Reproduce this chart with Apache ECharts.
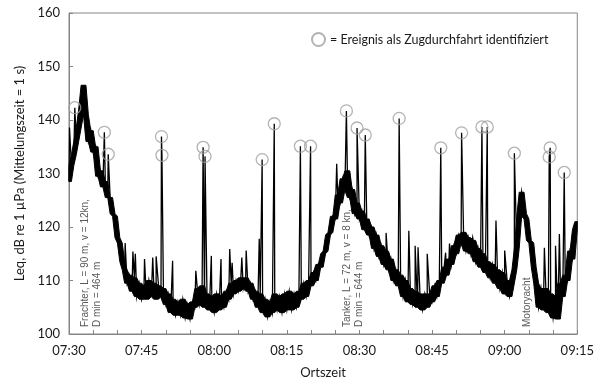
<!DOCTYPE html>
<html>
<head>
<meta charset="utf-8">
<script src="https://cdn.jsdelivr.net/npm/echarts@6/dist/echarts.min.js"></script>
<style>
  html, body { margin: 0; padding: 0; background: #fff; }
  #chart { width: 597px; height: 387px; }
</style>
</head>
<body>
<div id="chart"></div>
<script>
// minutes after 07:30, one reading every half minute (0 .. 105)
const sampleStep = 0.5
const leq = [
  128.5, 131.5, 133.5, 136, 138.5, 142, 146.5, 141, 136, 138,
  134, 135, 129.5, 130.5, 127.5, 128.5, 125.5, 125.5, 122.5, 122,
  118, 117, 113.5, 112, 109.5, 111, 108, 110.5, 107, 109.5,
  106.5, 109, 106.5, 110, 107, 109.5, 106.5, 109, 107, 108.5,
  105.5, 107.5, 104, 106.5, 103.5, 106, 103.5, 106.5, 103, 105.5,
  102.8, 106, 105, 108.5, 105.5, 109, 105, 107.5, 104.5, 107,
  104, 107.5, 104.5, 107, 105, 108, 106.5, 109.5, 107.5, 110,
  108, 110.5, 108.5, 110.5, 108, 109.5, 106.5, 108, 105, 107.5,
  104, 106.5, 103.2, 106, 104, 107.5, 104.5, 107, 104, 107.5,
  104.5, 108, 104.5, 107.5, 105, 108, 106.5, 109.5, 107, 110,
  109, 111.5, 110, 113, 112.5, 115, 115.5, 118.5, 119, 122,
  121.5, 126, 124.5, 129, 127, 130.5, 125.5, 127, 122.5, 124.5,
  121.5, 123, 119.5, 121.5, 118.5, 120, 116, 118.5, 114.5, 116.5,
  113, 115.5, 112, 114, 110, 112, 109, 111, 107, 110,
  106, 108.5, 105.5, 108, 105, 107.5, 104.5, 107.5, 105, 107.5,
  106, 109, 107, 110, 109.5, 112.5, 111, 114, 113, 116.5,
  115, 118.5, 117, 119, 115.5, 118, 115, 117.5, 113.5, 116,
  112.5, 115, 111.5, 113.5, 110.5, 113, 109.5, 112, 108.5, 111.5,
  107.5, 110, 107, 109.5, 112, 116, 122, 126.5, 122.5, 121.5,
  117.5, 117, 112.5, 109.5, 105, 108.5, 104.5, 108.5, 104, 107.5,
  103, 107, 102.8, 109.5, 107, 111, 110, 115.5, 114, 119.5,
  121
]

// short peaks that were not marked as train passages
const spikeTimes = [0.1, 11.6, 13.2, 13.7, 15.6, 17.3, 18.0, 21.4, 26.2, 29.4,
  31.4, 33.2, 33.7, 35.7, 36.6, 39.3, 55.3, 65.5, 70.2, 71.5,
  72.1, 74.0, 77.8, 78.6, 83.4, 88.2, 90.0, 98.2, 100.5, 101.3]
const spikePeaks = [138.6, 117.0, 115.4, 115.0, 114.0, 114.3, 114.5, 113.7, 111.8, 114.6,
  114.0, 115.9, 113.3, 114.3, 115.6, 117.8, 131.8, 118.9, 119.3, 116.5,
  116.2, 115.0, 115.2, 116.9, 118.0, 121.2, 115.6, 116.1, 116.5, 118.7]

// peaks identified as train passages (circled)
const eventTimes = [1.2, 7.3, 8.1, 19.1, 19.2, 27.7, 28.1, 39.9, 42.4, 47.8,
  49.9, 57.3, 59.5, 61.2, 68.2, 76.8, 81.1, 85.3, 86.4, 92.0,
  99.4, 99.2, 102.3]
const eventLevels = [142.3, 137.7, 133.6, 136.9, 133.4, 134.9, 133.2, 132.6, 139.3, 135.1,
  135.1, 141.7, 138.5, 137.2, 140.3, 134.8, 137.6, 138.7, 138.7, 133.8,
  134.8, 133.1, 130.2]

const yTicks = [100, 110, 120, 130, 140, 150, 160]
const startMinute = 7 * 60 + 30

const lineData = leq.map((v, i) => [i * sampleStep, v])
spikeTimes.forEach((t, i) => lineData.push([t, spikePeaks[i]]))
eventTimes.forEach((t, i) => lineData.push([t, eventLevels[i]]))
lineData.sort((a, b) => a[0] - b[0])

// the 1-s readings make a solid band: fill between the running min and max of neighbouring samples
const bandLow = leq.map((v, i) => Math.min(v, leq[i - 1] ?? v, leq[i + 1] ?? v))
const bandHigh = leq.map((v, i) => Math.max(v, leq[i - 1] ?? v, leq[i + 1] ?? v))

function clock(v) {
  const m = startMinute + v
  const hh = Math.floor(m / 60)
  const mm = Math.round(m % 60)
  return (hh < 10 ? '0' : '') + hh + ':' + (mm < 10 ? '0' : '') + mm
}

const font = 'Lato, "Open Sans", sans-serif'
const noteStyle = { fontSize: 10, fill: '#595959', fontFamily: 'Liberation Sans, Arial, sans-serif', lineHeight: 12, align: 'left', verticalAlign: 'top' }

const chart = echarts.init(document.getElementById('chart'))
chart.setOption({
  animation: false,
  grid: {
    left: 69, right: 17, top: 13, bottom: 53,
    show: true, borderColor: '#868686', borderWidth: 1
  },
  legend: {
    left: 306, top: 27,
    itemWidth: 13, itemHeight: 13, itemGap: 4,
    textStyle: { fontSize: 12.5, color: '#1a1a1a', fontFamily: font },
    data: [{ name: '= Ereignis als Zugdurchfahrt identifiziert', icon: 'circle' }]
  },
  xAxis: {
    type: 'value', min: 0, max: 105, interval: 15,
    name: 'Ortszeit', nameLocation: 'middle', nameGap: 32,
    nameTextStyle: { fontSize: 13, color: '#1a1a1a', fontFamily: font },
    axisLine: { lineStyle: { color: '#868686' } },
    axisTick: { inside: true, length: 4, lineStyle: { color: '#868686' } },
    minorTick: { show: true, splitNumber: 3, length: 4, lineStyle: { color: '#868686' } },
    splitLine: { show: false },
    axisLabel: { formatter: clock, fontSize: 13, color: '#1a1a1a', fontFamily: font, margin: 10 }
  },
  yAxis: {
    type: 'value', min: yTicks[0], max: yTicks[yTicks.length - 1], interval: 10,
    name: 'Leq, dB re 1 \u00b5Pa (Mittelungszeit = 1 s)', nameLocation: 'middle', nameGap: 38,
    nameTextStyle: { fontSize: 13, color: '#1a1a1a', fontFamily: font },
    axisLine: { show: true, lineStyle: { color: '#868686' } },
    axisTick: { show: true, inside: true, length: 4, lineStyle: { color: '#868686' } },
    splitLine: { show: false },
    axisLabel: { fontSize: 13, color: '#1a1a1a', fontFamily: font, margin: 9 }
  },
  series: [
    {
      type: 'custom',
      data: [0],
      silent: true,
      z: 1,
      renderItem(params, api) {
        const top = bandHigh.map((v, i) => api.coord([i * sampleStep, v]))
        const bottom = bandLow.map((v, i) => api.coord([i * sampleStep, v])).reverse()
        return {
          type: 'polygon',
          shape: { points: top.concat(bottom) },
          style: { fill: '#000', stroke: '#000', lineWidth: 1 }
        }
      }
    },
    {
      type: 'line',
      data: lineData,
      showSymbol: false,
      symbol: 'none',
      lineStyle: { color: '#000', width: 1.3, join: 'miter' },
      z: 2
    },
    {
      name: '= Ereignis als Zugdurchfahrt identifiziert',
      type: 'scatter',
      data: eventTimes.map((t, i) => [t, eventLevels[i]]),
      symbol: 'circle',
      symbolSize: 12,
      itemStyle: { color: 'rgba(255,255,255,0)', borderColor: '#a0a0a0', borderWidth: 1.3 },
      z: 3
    }
  ],
  graphic: [
    { type: 'text', x: 79, y: 327, rotation: Math.PI / 2, style: Object.assign({ text: 'Frachter, L = 90 m, v = 12kn,\nD min = 464 m' }, noteStyle) },
    { type: 'text', x: 341, y: 327, rotation: Math.PI / 2, style: Object.assign({ text: 'Tanker, L = 72 m, v = 8 kn,\nD min = 644 m' }, noteStyle) },
    { type: 'text', x: 521, y: 327, rotation: Math.PI / 2, style: Object.assign({ text: 'Motoryacht' }, noteStyle) }
  ]
})
</script>
</body>
</html>
